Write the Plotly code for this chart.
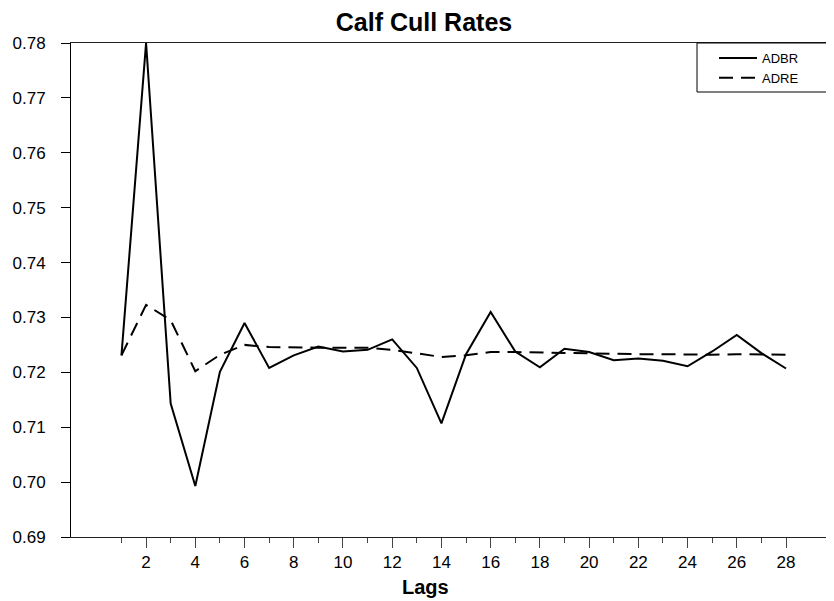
import plotly.graph_objects as go

# ---- data ----
lags = list(range(1, 29))
adbr = [0.7231, 0.7800, 0.7143, 0.6993, 0.7201, 0.7290, 0.7208, 0.7231, 0.7247, 0.7238,
        0.7241, 0.7260, 0.7208, 0.7107, 0.7233, 0.7310, 0.7238, 0.7209, 0.7243, 0.7237,
        0.7222, 0.7225, 0.7221, 0.7211, 0.7238, 0.7268, 0.7235, 0.7207]
adre = [0.7231, 0.7323, 0.7295, 0.7202, 0.7232, 0.7250, 0.7246, 0.7245, 0.7245, 0.7245,
        0.7245, 0.7241, 0.7234, 0.7228, 0.7231, 0.7237, 0.7237, 0.7236, 0.7235, 0.7235,
        0.7234, 0.7233, 0.7233, 0.7232, 0.7232, 0.7233, 0.7233, 0.7232]
x_tickvals = [2, 4, 6, 8, 10, 12, 14, 16, 18, 20, 22, 24, 26, 28]
x_ticktext = [str(v) for v in x_tickvals]
x_minorvals = [1, 3, 5, 7, 9, 11, 13, 15, 17, 19, 21, 23, 25, 27]
y_tickvals = [0.69, 0.70, 0.71, 0.72, 0.73, 0.74, 0.75, 0.76, 0.77, 0.78]
y_ticktext = ["%.2f" % v for v in y_tickvals]

FONT = "Liberation Sans, Arial, sans-serif"

fig = go.Figure()
fig.add_trace(go.Scatter(x=lags, y=adbr, mode="lines", name="ADBR",
                         line=dict(color="black", width=2)))
fig.add_trace(go.Scatter(x=lags, y=adre, mode="lines", name="ADRE",
                         line=dict(color="black", width=2, dash="14px,8px")))

# page body has an 8px margin, so the figure is drawn 8px smaller and offset
OFF = 8
W, H = 834 - OFF, 601 - OFF
L, R, T, B = 71 - OFF, 0, 43 - OFF, 64
pw = W - L - R
ph = H - T - B


def px_x(x):  # page pixel x -> paper fraction
    return (x - OFF - L) / pw


def px_y(y):  # page pixel y -> paper fraction
    return 1 - (y - OFF - T) / ph


fig.update_layout(
    width=W, height=H,
    margin=dict(l=L, r=R, t=T, b=B, pad=0),
    paper_bgcolor="white", plot_bgcolor="white",
    font=dict(family=FONT, color="black", size=17),
    title=dict(text="<b>Calf Cull Rates</b>", x=(424 - OFF) / W, xref="container",
               xanchor="center", y=1 - (22 - OFF) / H, yref="container", yanchor="middle",
               font=dict(size=25, family=FONT, color="black")),
    showlegend=True,
    legend=dict(x=px_x(714), y=1.0, xanchor="left", yanchor="top",
                bgcolor="rgba(0,0,0,0)", borderwidth=0, itemwidth=38,
                font=dict(size=13, family=FONT, color="black"),
                tracegroupgap=0),
    xaxis=dict(range=[-1.05, 29.95], showgrid=False, zeroline=False,
               showline=True, linecolor="#222", linewidth=1, mirror=True,
               ticks="outside", ticklen=10, tickcolor="#444", tickwidth=1,
               tickmode="array", tickvals=x_tickvals, ticktext=x_ticktext,
               tickfont=dict(size=17, family=FONT, color="black"),
               minor=dict(tickmode="array", tickvals=x_minorvals, ticks="outside",
                          ticklen=5, tickcolor="#444", tickwidth=1, showgrid=False)),
    yaxis=dict(range=[0.69, 0.78], showgrid=False, zeroline=False,
               showline=True, linecolor="black", linewidth=1,
               ticks="outside", ticklen=9, tickcolor="black", tickwidth=1,
               tickmode="array", tickvals=y_tickvals, ticktext=y_ticktext,
               ticklabelstandoff=12,
               tickfont=dict(size=17, family=FONT, color="black")),
    annotations=[dict(text="<b>Lags</b>", xref="paper", yref="paper",
                      x=px_x(425), y=px_y(587),
                      xanchor="center", yanchor="middle", showarrow=False,
                      font=dict(size=20, family=FONT, color="black"))],
    shapes=[dict(type="rect", xref="paper", yref="paper",
                 x0=px_x(697), x1=1.05, y0=px_y(92), y1=1.0,
                 line=dict(color="black", width=1), fillcolor="rgba(0,0,0,0)",
                 layer="above")],
)

fig.write_html("out.html")
